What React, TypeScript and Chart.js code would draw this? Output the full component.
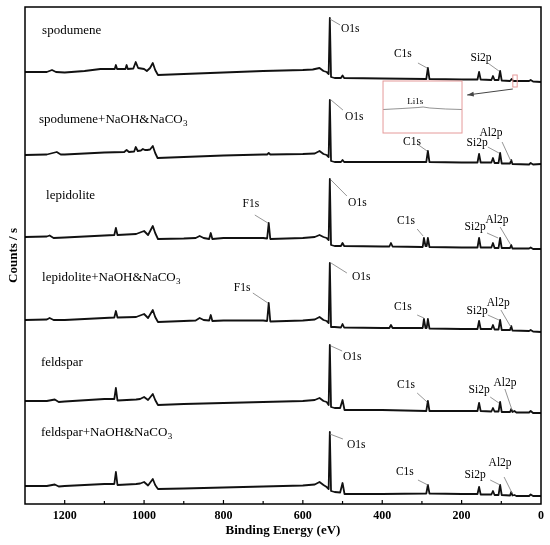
import { useEffect, useRef } from 'react';
import Chart from 'chart.js/auto';

type Pt = [number, number];

// binding energy (eV) / intensity relative to each trace's own baseline
const sampleNames = [
  'spodumene',
  'spodumene+NaOH&NaCO3',
  'lepidolite',
  'lepidolite+NaOH&NaCO3',
  'feldspar',
  'feldspar+NaOH&NaCO3',
];
const offsets = [432, 349, 267, 184, 103, 18];

const spodumene: Pt[] = [
  [1300, 0], [1245, 0], [1232, 2], [1222, 0], [1200, -0.5], [1150, 1], [1110, 3], [1100, 3],
  [1074, 3], [1071, 7], [1068, 3], [1047, 3], [1044, 7], [1041, 3], [1027, 3.5], [1021, 10],
  [1015, 4], [1000, 3], [993, 1], [985, 4], [978, 9], [972, 2], [965, -3], [900, -2], [800, -0.5],
  [700, 1], [600, 2], [575, 2.5], [558, 4], [548, 1], [540, 0], [535, -2], [532, 54], [529, -5],
  [520, -6], [504, -6], [500, -3.5], [496, -6], [400, -6.5], [289, -7], [285, 4], [281, -7],
  [200, -7.5], [160, -7.5], [156, 0], [152, -7.5], [125, -8], [121, -4], [117, -8], [107, -8],
  [103, 1], [99, -8.5], [78, -9], [74, -7], [70, -9], [30, -9], [26, -8], [20, -9.5], [0, -10],
];
const spodumeneTreated: Pt[] = [
  [1300, 0], [1245, 0.5], [1220, 3], [1210, 0.5], [1200, 0.5], [1100, 2.5], [1050, 3], [1044, 5],
  [1038, 3], [1025, 3.5], [1021, 8], [1016, 4], [1008, 4.5], [1003, 6], [998, 5], [992, 5],
  [985, 5.5], [978, 9], [972, 2], [966, -3], [900, -2], [800, -0.5], [700, 0.5], [690, 0.5],
  [686, 2], [682, 0.5], [600, 1], [570, 1.5], [558, 4], [548, 1], [540, 0], [535, -2], [532, 55],
  [529, -6], [520, -7], [504, -7], [500, -5], [496, -7], [400, -7], [289, -7], [285, 4], [281, -7],
  [200, -7.5], [160, -7.5], [156, 1], [152, -7.5], [125, -7.5], [121, -3], [117, -8], [107, -8],
  [103, 2], [99, -8.5], [78, -8.5], [75, -5], [72, -9], [30, -9.5], [26, -8], [20, -9.5], [0, -9],
];
const lepidolite: Pt[] = [
  [1300, 0], [1245, 0.5], [1238, 1.5], [1228, -1], [1200, -0.5], [1100, 1.5], [1075, 2], [1071, 9],
  [1067, 2], [1020, 3], [1000, 6], [990, 2], [978, 11], [972, 4], [965, -2], [900, -1.5], [870, -1],
  [860, 1], [850, -1], [836, -2], [832, 4], [828, -2], [800, -1], [700, -1], [690, -1.5], [686, 14],
  [682, -2], [600, -1], [570, 0], [558, 2], [548, 0], [540, -1], [535, -3], [532, 58], [529, -8],
  [520, -9], [504, -9], [500, -6], [496, -9], [400, -9.5], [382, -9.5], [378, -6], [374, -9.5],
  [300, -10], [298, -10], [295, -1], [291, -9], [288, -9], [285, -1], [281, -10], [200, -10.5],
  [160, -10.5], [156, -1], [152, -10.5], [125, -10.5], [121, -6], [117, -11], [107, -11], [103, -1],
  [99, -11], [78, -11], [75, -8], [72, -11.5], [30, -11.5], [26, -10.5], [20, -12], [0, -12],
];
const lepidoliteTreated: Pt[] = [
  [1300, 0], [1245, 0.5], [1238, 2], [1228, 0], [1200, 0], [1100, 2], [1075, 2.5], [1071, 9],
  [1067, 2.5], [1020, 3], [1000, 6], [990, 2], [978, 10], [972, 3], [965, -2], [900, -1], [870, -0.5],
  [860, 2], [850, 0], [836, -0.5], [832, 5], [828, -1], [800, -0.5], [700, -0.5], [690, -1], [686, 17],
  [682, -1.5], [600, -0.5], [570, 0.5], [558, 3], [548, 0], [540, -1], [535, -3], [532, 57], [529, -7],
  [520, -7], [504, -7.5], [500, -4], [496, -7.5], [400, -8], [382, -8], [378, -5], [374, -8],
  [300, -8], [298, -8], [295, 1], [291, -8], [288, -8], [285, 1], [281, -8.5], [200, -9], [160, -9],
  [156, -1], [152, -9], [125, -9], [121, -5], [117, -9.5], [107, -9.5], [103, 0], [99, -10], [78, -10],
  [75, -6], [72, -10.5], [30, -11], [26, -10], [20, -11.5], [0, -12],
];
const feldspar: Pt[] = [
  [1300, 0], [1245, 0], [1225, 1.5], [1215, -1], [1200, -0.5], [1100, 2], [1075, 2], [1071, 13],
  [1067, 0.5], [1020, 1.5], [1010, 2], [1000, 4], [990, 1], [978, 7], [972, 1], [965, -4], [900, -3],
  [800, -2], [700, -1], [600, 0], [570, 1], [558, 3], [548, 0], [540, -1], [535, -4], [532, 56],
  [529, -6], [520, -7], [506, -7], [500, 1], [495, -9], [480, -9], [400, -9], [289, -10], [285, 0],
  [281, -10], [200, -10], [160, -10], [156, -2], [152, -10], [125, -10.5], [121, -7], [117, -10.5],
  [107, -10.5], [103, -1], [99, -11], [78, -11], [75, -8], [72, -11], [67, -10], [62, -11.5],
  [30, -11.5], [26, -10], [20, -12], [0, -12],
];
const feldsparTreated: Pt[] = [
  [1300, 0], [1245, 0], [1225, 1.5], [1215, -0.5], [1200, 0], [1100, 2], [1075, 2], [1071, 14],
  [1067, 1], [1020, 2], [1010, 2.5], [1000, 4], [990, 0.5], [978, 7], [972, 1], [965, -3], [900, -2.5],
  [800, -1.5], [700, -0.5], [600, 0.5], [570, 1.5], [558, 4], [548, 1], [540, -1], [535, -3], [532, 54],
  [529, -5], [520, -6], [506, -6.5], [500, 3], [495, -8], [480, -8], [400, -8], [289, -7.5], [285, 1],
  [281, -7.5], [200, -8], [160, -8], [156, -1], [152, -8.5], [125, -8.5], [121, -5], [117, -9],
  [107, -9], [103, 1], [99, -9], [78, -9.5], [75, -6], [72, -9.5], [67, -9], [62, -10], [30, -10],
  [26, -8.5], [20, -10], [0, -10],
];
const spectra = [spodumene, spodumeneTreated, lepidolite, lepidoliteTreated, feldspar, feldsparTreated];

// magnified Li1s region shown in the inset
const li1sZoom: Pt[] = [[398, 394.5], [350, 395.5], [310, 396.5], [297, 397], [280, 396], [240, 395], [199, 394.5]];

// label placement (eV, counts)
const nameAnchors: Pt[] = [[1257, 473], [1265, 384], [1247, 308], [1257, 226], [1260, 141], [1260, 71]];

type Note = { t: string; x: number; y: number; left?: boolean; l: [number, number, number, number] };
const notes: Note[] = [
  { t: 'O1s', x: 504, y: 475, left: true, l: [532, 485, 506, 479] },
  { t: 'C1s', x: 348, y: 450, l: [310, 441, 287, 436] },
  { t: 'Si2p', x: 151, y: 446, l: [134, 441, 106, 433] },

  { t: 'O1s', x: 494, y: 387, left: true, l: [529, 404, 499, 394] },
  { t: 'C1s', x: 325, y: 362, l: [312, 360, 287, 353] },
  { t: 'Si2p', x: 161, y: 361, l: [134, 357, 106, 351] },
  { t: 'Al2p', x: 126, y: 371, l: [98, 362, 76, 343] },

  { t: 'F1s', x: 731, y: 300, l: [721, 289, 688, 281] },
  { t: 'O1s', x: 486, y: 301, left: true, l: [529, 324, 489, 308] },
  { t: 'C1s', x: 340, y: 283, l: [312, 275, 297, 268] },
  { t: 'Si2p', x: 166, y: 277, l: [136, 271, 108, 266] },
  { t: 'Al2p', x: 111, y: 284, l: [103, 277, 76, 259] },

  { t: 'F1s', x: 753, y: 216, l: [726, 211, 688, 201] },
  { t: 'O1s', x: 476, y: 227, left: true, l: [529, 241, 489, 231] },
  { t: 'C1s', x: 348, y: 197, l: [312, 189, 295, 186] },
  { t: 'Si2p', x: 161, y: 193, l: [134, 189, 106, 184] },
  { t: 'Al2p', x: 108, y: 201, l: [101, 194, 76, 177] },

  { t: 'O1s', x: 499, y: 147, left: true, l: [529, 158, 501, 153] },
  { t: 'C1s', x: 340, y: 119, l: [312, 111, 287, 102] },
  { t: 'Si2p', x: 156, y: 114, l: [128, 107, 106, 101] },
  { t: 'Al2p', x: 91, y: 121, l: [91, 115, 73, 94] },

  { t: 'O1s', x: 489, y: 59, left: true, l: [532, 70, 499, 65] },
  { t: 'C1s', x: 343, y: 32, l: [310, 24, 285, 19] },
  { t: 'Si2p', x: 166, y: 29, l: [128, 24, 103, 19] },
  { t: 'Al2p', x: 103, y: 41, l: [93, 27, 73, 11] },
];

const FONT = '"Liberation Serif", "Times New Roman", serif';

const decor = {
  id: 'decor',
  afterDatasetsDraw(chart: any) {
    const { ctx, chartArea: a, scales } = chart;
    const X = (e: number) => scales.x.getPixelForValue(e);
    const Y = (v: number) => scales.y.getPixelForValue(v);
    ctx.save();

    // frame + inner ticks
    ctx.strokeStyle = '#000';
    ctx.lineWidth = 1.5;
    ctx.strokeRect(a.left, a.top, a.right - a.left, a.bottom - a.top);
    ctx.lineWidth = 1.2;
    for (let e = 100; e < 1300; e += 100) {
      const len = e % 200 === 0 ? 4 : 3;
      ctx.beginPath();
      ctx.moveTo(X(e), a.bottom);
      ctx.lineTo(X(e), a.bottom - len);
      ctx.stroke();
    }

    // sample names
    ctx.fillStyle = '#000';
    ctx.textBaseline = 'middle';
    ctx.textAlign = 'left';
    sampleNames.forEach((name, i) => {
      const [e, v] = nameAnchors[i];
      let x = X(e);
      const y = Y(v);
      const sub = name.endsWith('CO3');
      const main = sub ? name.slice(0, -1) : name;
      ctx.font = `13px ${FONT}`;
      ctx.fillText(main, x, y);
      if (sub) {
        x += ctx.measureText(main).width;
        ctx.font = `9px ${FONT}`;
        ctx.fillText('3', x + 0.3, y + 4);
      }
    });

    // peak labels with leader lines
    ctx.strokeStyle = '#8a8a8a';
    ctx.lineWidth = 0.9;
    ctx.font = `11.5px ${FONT}`;
    notes.forEach((n) => {
      ctx.beginPath();
      ctx.moveTo(X(n.l[0]), Y(n.l[1]));
      ctx.lineTo(X(n.l[2]), Y(n.l[3]));
      ctx.stroke();
      ctx.textAlign = n.left ? 'left' : 'center';
      ctx.fillText(n.t, X(n.x), Y(n.y));
    });

    // inset frame, marker box and arrow
    ctx.strokeStyle = '#e59a9a';
    ctx.lineWidth = 1;
    ctx.strokeRect(X(398), Y(423), X(199) - X(398), Y(371) - Y(423));
    ctx.strokeRect(X(71), Y(429), X(60) - X(71), Y(417) - Y(429));
    ctx.fillStyle = '#000';
    ctx.font = `9px ${FONT}`;
    ctx.textAlign = 'center';
    ctx.fillText('Li1s', X(317), Y(402.5));

    const x1 = X(71), y1 = Y(415), x2 = X(186), y2 = Y(409);
    ctx.strokeStyle = '#444';
    ctx.fillStyle = '#444';
    ctx.lineWidth = 1;
    ctx.beginPath();
    ctx.moveTo(x1, y1);
    ctx.lineTo(x2, y2);
    ctx.stroke();
    const ang = Math.atan2(y2 - y1, x2 - x1);
    ctx.beginPath();
    ctx.moveTo(x2, y2);
    ctx.lineTo(x2 - 7 * Math.cos(ang - 0.35), y2 - 7 * Math.sin(ang - 0.35));
    ctx.lineTo(x2 - 7 * Math.cos(ang + 0.35), y2 - 7 * Math.sin(ang + 0.35));
    ctx.closePath();
    ctx.fill();

    ctx.restore();
  },
};

const App = () => {
  const ref = useRef<HTMLCanvasElement>(null);

  useEffect(() => {
    if (!ref.current) return;
    const datasets: any[] = spectra.map((s, i) => ({
      label: sampleNames[i],
      data: s.map(([e, v]) => ({ x: e, y: offsets[i] + v })),
      borderColor: '#111',
      borderWidth: 1.8,
      borderJoinStyle: 'round',
      pointRadius: 0,
      showLine: true,
    }));
    datasets.push({
      label: 'Li1s',
      data: li1sZoom.map(([e, v]) => ({ x: e, y: v })),
      borderColor: '#777',
      borderWidth: 0.8,
      pointRadius: 0,
      showLine: true,
    });

    const chart = new Chart(ref.current, {
      type: 'scatter',
      data: { datasets },
      plugins: [decor],
      options: {
        responsive: false,
        animation: false,
        events: [],
        layout: { padding: { top: 7, right: 9, left: 0, bottom: 0 } },
        plugins: { legend: { display: false }, tooltip: { enabled: false } },
        scales: {
          x: {
            type: 'linear',
            reverse: true,
            min: 0,
            max: 1300,
            grid: { display: false, drawTicks: false },
            border: { display: false },
            ticks: {
              stepSize: 200,
              includeBounds: false,
              padding: 5,
              maxRotation: 0,
              color: '#000',
              font: { family: FONT, size: 12, weight: 'bold' },
              callback: (v: any) => String(v),
            },
            title: {
              display: true,
              text: 'Binding Energy (eV)',
              color: '#000',
              font: { family: FONT, size: 13, weight: 'bold' },
              padding: { top: 0, bottom: 7 },
            },
            afterFit: (s: any) => { s.height = 41; },
          },
          y: {
            min: 0,
            max: 497,
            grid: { display: false, drawTicks: false },
            border: { display: false },
            ticks: { display: false },
            title: {
              display: true,
              text: 'Counts / s',
              color: '#000',
              font: { family: FONT, size: 13, weight: 'bold' },
              padding: { top: 6, bottom: 0 },
            },
            afterFit: (s: any) => { s.width = 25; },
          },
        },
      },
    });
    return () => chart.destroy();
  }, []);

  return (
    <div style={{ position: 'absolute', left: 0, top: 0, width: 550, height: 545, background: '#fff' }}>
      <canvas ref={ref} width={550} height={545} style={{ width: 550, height: 545 }} />
    </div>
  );
};

export default App;
